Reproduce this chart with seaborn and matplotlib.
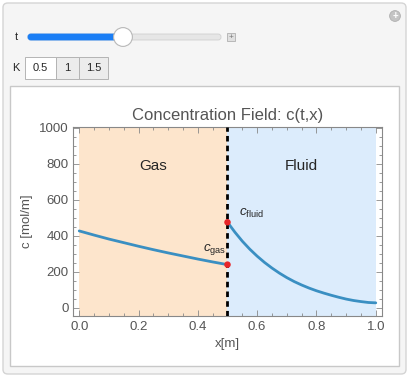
import numpy as np
import pandas as pd
import matplotlib
matplotlib.use("Agg")
import matplotlib.pyplot as plt
import seaborn as sns
from matplotlib.patches import FancyBboxPatch, Rectangle, Circle
from matplotlib.ticker import MultipleLocator

# data
x_gas = [0.0, 0.05, 0.1, 0.15, 0.2, 0.25, 0.3, 0.35, 0.4, 0.45, 0.5]
c_gas = [427, 404, 382, 362, 342, 323, 305, 288, 271, 255, 240]
x_fluid = [0.5, 0.525, 0.55, 0.575, 0.6, 0.625, 0.65, 0.675, 0.7, 0.725,
           0.75, 0.775, 0.8, 0.825, 0.85, 0.875, 0.9, 0.925, 0.95, 0.975, 1.0]
c_fluid = [475, 420, 370, 326, 287, 252, 221, 193, 168, 146,
           127, 110, 95, 82, 70, 59, 49, 41, 35, 30, 28]
x_iface = [0.5, 0.5]
c_iface = [240, 475]

regions = ["Gas", "Fluid"]
region_edges = [(0.0, 0.5), (0.5, 1.0)]
region_colors = ["#fde5cc", "#dcecfc"]
k_options = ["0.5", "1", "1.5"]

sns.set_style("ticks")
plt.rcParams["font.family"] = ["Liberation Sans", "DejaVu Sans"]
plt.rcParams["mathtext.fontset"] = "custom"
plt.rcParams["mathtext.rm"] = "Liberation Sans"
plt.rcParams["mathtext.it"] = "Liberation Sans:italic"

fig = plt.figure(figsize=(4.1, 3.78), dpi=100)
fig.patch.set_facecolor("white")

W, H = 410, 378
def fx(px): return px / W
def fy(py): return 1 - py / H

def add_patch(p):
    p.set_zorder(-5)
    fig.patches.append(p)

# outer panel
add_patch(FancyBboxPatch((fx(3), fy(374)), fx(403), 371 / H,
                         boxstyle="round,pad=0,rounding_size=0.012",
                         transform=fig.transFigure, fc="#f5f5f5",
                         ec="#d4d4d4", lw=1))
# plot box
add_patch(Rectangle((fx(10), fy(366)), fx(389), 280 / H,
                    transform=fig.transFigure, fc="white",
                    ec="#c8c8c8", lw=1))

# slider
fig.text(fx(16), fy(37), "t", fontsize=8, va="center", ha="center")
add_patch(FancyBboxPatch((fx(28), fy(40)), fx(193), 6 / H,
                         boxstyle="round,pad=0,rounding_size=0.007",
                         transform=fig.transFigure, fc="#e6e6e6",
                         ec="#d0d0d0", lw=0.6))
add_patch(FancyBboxPatch((fx(28), fy(40)), fx(95), 6 / H,
                         boxstyle="round,pad=0,rounding_size=0.007",
                         transform=fig.transFigure, fc="#1a7ef5",
                         ec="#1a7ef5", lw=0.6))
knob = fig.add_axes([fx(113), fy(47), fx(20), 20 / H])
knob.set_axis_off()
knob.add_patch(Circle((0.5, 0.5), 0.47, fc="white", ec="#b8b8b8", lw=0.8))
knob.set_xlim(0, 1); knob.set_ylim(0, 1)
add_patch(Rectangle((fx(227), fy(41)), fx(8), 8 / H,
                    transform=fig.transFigure, fc="#e0e0e0",
                    ec="#b0b0b0", lw=0.6))
fig.text(fx(231), fy(37), "+", fontsize=6, ha="center", va="center", color="#777")
icon = fig.add_axes([fx(389), fy(22), fx(12), 12 / H])
icon.set_axis_off()
icon.add_patch(Circle((0.5, 0.5), 0.45, fc="#c4c4c4", ec="#b0b0b0", lw=0.6))
icon.text(0.5, 0.48, "+", ha="center", va="center", fontsize=7, color="white",
          fontweight="bold")
icon.set_xlim(0, 1); icon.set_ylim(0, 1)

# K buttons
fig.text(fx(16), fy(68), "K", fontsize=8, va="center", ha="center")
btn_edges = [25, 56, 79, 108]
for i, lab in enumerate(k_options):
    x0, x1 = btn_edges[i], btn_edges[i + 1]
    add_patch(Rectangle((fx(x0), fy(79)), fx(x1 - x0), 22 / H,
                        transform=fig.transFigure,
                        fc="white" if i == 0 else "#ececec",
                        ec="#b4b4b4", lw=0.7))
    fig.text(fx((x0 + x1) / 2), fy(68), lab, fontsize=8, ha="center", va="center")

# main axes
ax = fig.add_axes([fx(73.3), fy(316), fx(381.7 - 73.3), (316 - 127.3) / H])
for name, (a, b), col in zip(regions, region_edges, region_colors):
    ax.axvspan(a, b, color=col, lw=0, zorder=0)
    ax.text((a + b) / 2, 790, name, ha="center", va="center", fontsize=11)

sns.lineplot(x=x_gas, y=c_gas, ax=ax, color="#3a8fc2", lw=2, zorder=3)
sns.lineplot(x=x_fluid, y=c_fluid, ax=ax, color="#3a8fc2", lw=2, zorder=3)
ax.axvline(0.5, color="black", lw=2, ls=(0, (2, 1.5)), zorder=4)
sns.scatterplot(x=x_iface, y=c_iface, ax=ax, color="#e8262a", s=22,
                edgecolor="none", zorder=5)

ax.text(0.457, 325, r"$c_{\mathrm{gas}}$", ha="center", va="center", fontsize=9.5)
ax.text(0.582, 525, r"$c_{\mathrm{fluid}}$", ha="center", va="center", fontsize=9.5)

ax.set_xlim(-0.02, 1.02)
ax.set_ylim(-45, 1002)
ax.xaxis.set_minor_locator(MultipleLocator(0.05))
ax.yaxis.set_major_locator(MultipleLocator(200))
ax.yaxis.set_minor_locator(MultipleLocator(50))
ax.set_xticks(np.arange(0, 1.01, 0.2))
ax.set_xticklabels([f"{v:.1f}" for v in np.arange(0, 1.01, 0.2)])
ax.tick_params(which="both", direction="in", top=True, right=True,
               color="#888888", labelcolor="#555555", labelsize=9.5, width=0.6)
ax.tick_params(which="major", length=4)
ax.tick_params(which="minor", length=2)
for s in ax.spines.values():
    s.set_color("#888888")
    s.set_linewidth(0.8)

ax.set_xlabel("x[m]", fontsize=9.5, color="#555555", labelpad=4)
ax.set_ylabel("c [mol/m]", fontsize=9.5, color="#555555", labelpad=4)
ax.set_title("Concentration Field: c(t,x)", fontsize=12, color="#555555", pad=5)

fig.savefig("out.png", dpi=100)
